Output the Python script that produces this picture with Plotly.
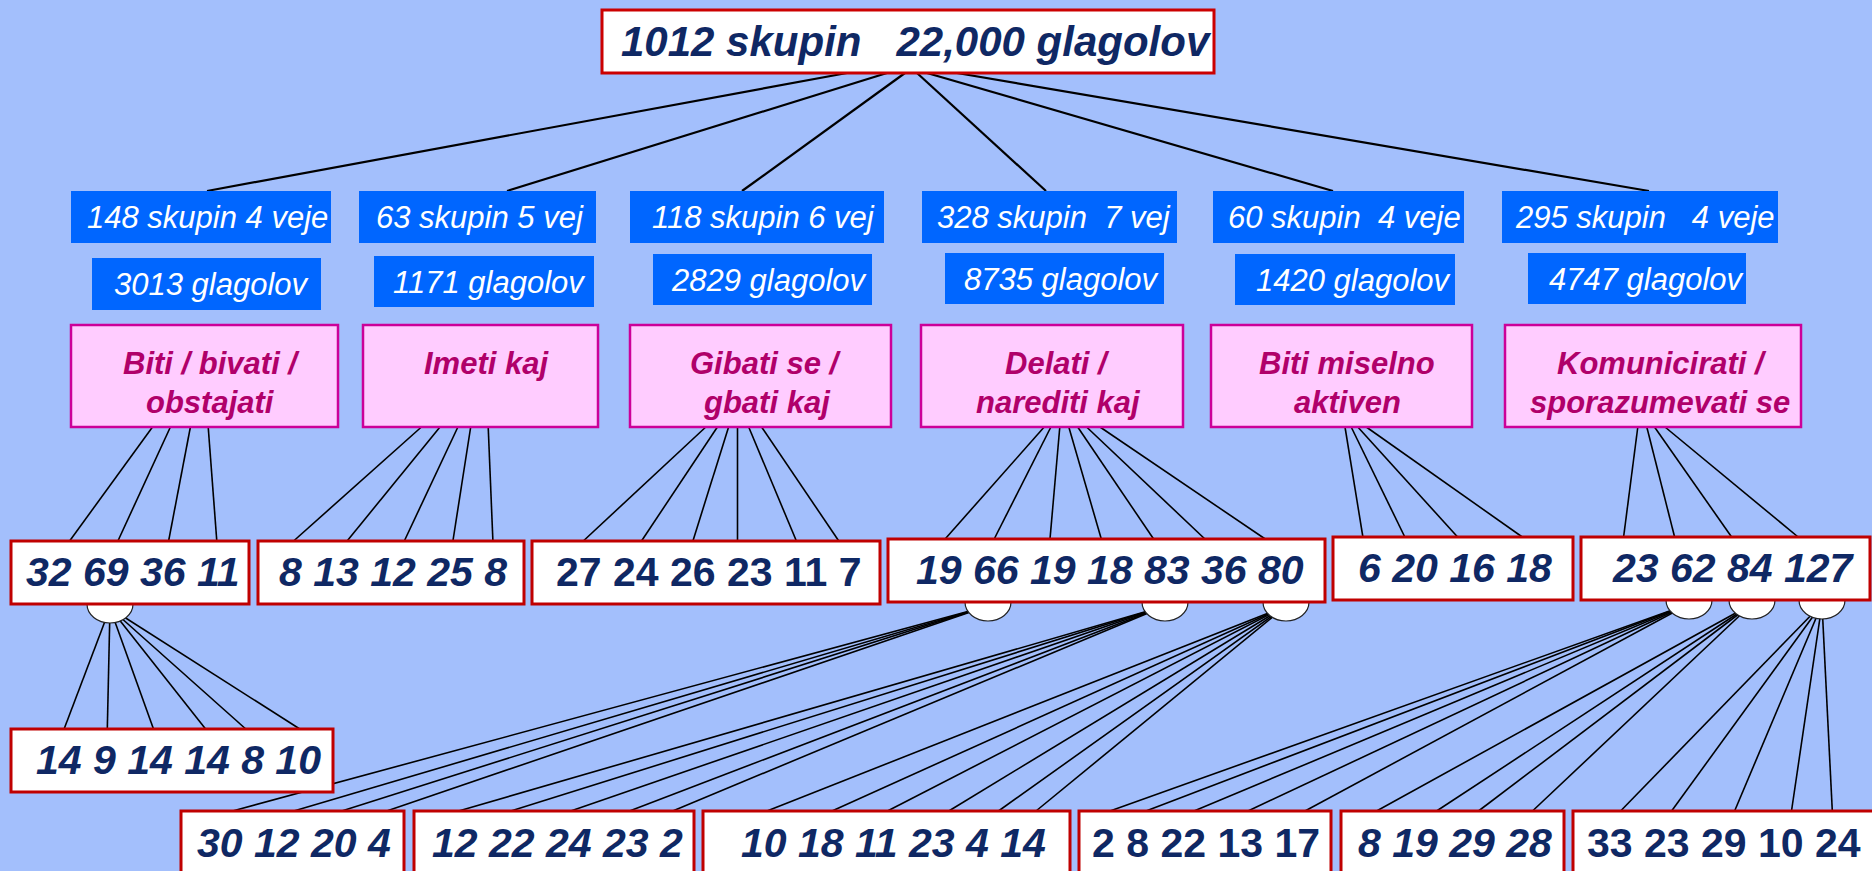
import plotly.graph_objects as go

# ---------------- data (labels) ----------------
root_label = "1012 skupin\u00a0\u00a0\u00a022,000 glagolov"
branch_groups = ["148 skupin 4 veje", "63 skupin 5 vej", "118 skupin 6 vej",
                 "328 skupin\u00a0\u00a07 vej", "60 skupin\u00a0\u00a04 veje", "295 skupin\u00a0\u00a0\u00a04 veje"]
branch_verbs = ["3013 glagolov", "1171 glagolov", "2829 glagolov",
                "8735 glagolov", "1420 glagolov", "4747 glagolov"]
branch_names_l1 = ["Biti / bivati /", "Imeti kaj", "Gibati se /", "Delati /", "Biti miselno", "Komunicirati /"]
branch_names_l2 = ["obstajati", "", "gbati kaj", "narediti kaj", "aktiven", "sporazumevati se"]
level3_labels = ["32 69 36 11", "8 13 12 25 8", "27 24 26 23 11 7",
                 "19 66 19 18 83 36 80", "6 20 16 18", "23 62 84 127"]
level3_italic = [True, True, False, True, True, True]
sub_left_label = "14 9 14 14 8 10"
bottom_labels = ["30 12 20 4", "12 22 24 23 2", "10 18 11 23 4 14",
                 "2 8 22 13 17", "8 19 29 28", "33 23 29 10 24"]
bottom_italic = [True, True, True, False, True, False]

# ---------------- layout geometry (pixels) ----------------
W, H = 1872, 871
BG = "#a3bffc"
BLUE = "#0066ff"
PINK_FILL = "#ffccff"
PINK_LINE = "#cc0099"
PINK_TEXT = "#b0006a"
RED = "#c00000"
NAVY = "#0f2864"
FONT = "Liberation Sans, Arial"

root_box = (602, 1214, 10, 73)
root_text = (916, 41)

blue1_x = [(71, 331), (359, 596), (630, 884), (922, 1177), (1213, 1464), (1502, 1778)]
blue1_y = (191, 243)
blue1_tx = [207, 480, 763, 1054, 1344, 1645]
blue1_ty = 217

blue2_boxes = [(92, 321, 258, 310), (374, 594, 256, 307), (653, 872, 254, 305),
               (945, 1164, 253, 304), (1235, 1455, 254, 305), (1528, 1746, 253, 304)]
blue2_tx = [211, 489, 769, 1061, 1353, 1646]
blue2_ty = [284, 282, 280, 279, 280, 279]

pink_x = [(71, 338), (363, 598), (630, 891), (921, 1183), (1211, 1472), (1505, 1801)]
pink_y = (325, 427)
pink_tx1 = [211, 486, 766, 1057, 1347, 1662]
pink_tx2 = [210, 486, 767, 1058, 1347, 1660]
pink_ty = (363, 402)

l3_boxes = [(11, 249, 541, 604), (258, 524, 541, 604), (532, 880, 541, 604),
            (888, 1325, 539, 602), (1333, 1573, 537, 600), (1581, 1870, 537, 600)]
l3_tx = [133, 393, 709, 1110, 1455, 1733]
l3_ty = [572, 572, 572, 570, 568, 568]

sub_left_box = (11, 333, 729, 792)
sub_left_txt = (178, 760)

bottom_x = [(181, 404), (414, 694), (703, 1070), (1079, 1331), (1341, 1564), (1573, 1890)]
bottom_y = (811, 905)
bottom_tx = [294, 557, 893, 1206, 1455, 1724]
bottom_ty = 843

# connectors root -> blue boxes
root_starts = [847, 887, 905, 917, 927, 957]
root_ends = [207, 507, 742, 1046, 1333, 1649]

# connectors pink boxes -> level3 boxes
pink_starts = [[152.5, 170.4, 190.4, 208.2],
               [421.4, 440, 457.9, 470.7, 488.2],
               [705.8, 717.4, 728.6, 737.5, 748.7, 761.6],
               [1044.2, 1050.9, 1059.8, 1068.8, 1077.7, 1086.6, 1100],
               [1345, 1351.2, 1357.8, 1366.3],
               [1637.8, 1646.8, 1654.5, 1665]]
pink_ends = [[69.6, 117.9, 168.6, 216.8],
             [293.6, 347.1, 404.3, 452.9, 492.9],
             [583.3, 641.5, 692.9, 737.5, 796.4, 838.8],
             [945.1, 994.2, 1050, 1101.3, 1153.6, 1204.9, 1265.2],
             [1362.9, 1404.8, 1457.6, 1522.3],
             [1623.6, 1674.6, 1731.6, 1798.1]]

# ellipses (expansion knobs) and their fan-out connectors
knobs = [  # (cx, cy, target_top_y, end_xs)
    (110, 604, 729, [64.1, 107.3, 153.5, 205.6, 245.8, 299.8]),
    (988, 602, 811, [232.6, 293.8, 341.7, 386.7]),
    (1165, 602, 811, [458.6, 510.8, 570.7, 629.5, 672.7]),
    (1286, 602, 811, [767, 832, 887.5, 948.8, 998.5, 1036]),
    (1689, 600, 811, [1110, 1146, 1194, 1248, 1305]),
    (1752, 600, 811, [1376.6, 1436.6, 1478.5, 1532.5]),
    (1822, 600, 811, [1620.6, 1671.6, 1734.6, 1791.5, 1832.3]),
]
KRX, KRY = 23, 19

shapes = []
annotations = []


def line(x0, y0, x1, y1, w=1.5):
    shapes.append(dict(type="line", xref="x", yref="y", x0=x0, y0=y0, x1=x1, y1=y1,
                       line=dict(color="black", width=w), layer="above"))


def rect(x0, x1, y0, y1, fill, lc=None, lw=0):
    shapes.append(dict(type="rect", xref="x", yref="y", x0=x0, x1=x1, y0=y0, y1=y1,
                       fillcolor=fill, line=dict(color=lc or fill, width=lw), layer="above"))


def text(x, y, s, size, color, bold=True, italic=True):
    if not s:
        return
    t = s
    if italic:
        t = "<i>" + t + "</i>"
    if bold:
        t = "<b>" + t + "</b>"
    annotations.append(dict(x=x, y=y, xref="x", yref="y", text=t, showarrow=False,
                            xanchor="center", yanchor="middle",
                            font=dict(family=FONT, size=size, color=color)))


# connectors first (boxes drawn over them)
for s, e in zip(root_starts, root_ends):
    line(s, root_box[3], e, blue1_y[0], w=2.2)
for i, (ss, ee) in enumerate(zip(pink_starts, pink_ends)):
    for s, e in zip(ss, ee):
        line(s, pink_y[1], e, l3_boxes[i][2], w=1.6)
for cx, cy, ty, ends in knobs:
    for e in ends:
        line(cx, cy + 4, e, ty, w=1.6)
for cx, cy, ty, ends in knobs:
    shapes.append(dict(type="circle", xref="x", yref="y", x0=cx - KRX, x1=cx + KRX,
                       y0=cy - KRY, y1=cy + KRY, fillcolor="white",
                       line=dict(color="#222222", width=1.2), layer="above"))

# boxes
rect(*root_box, "white", "#cc0000", 3)
text(*root_text, root_label, 42, NAVY)

for i, (x0, x1) in enumerate(blue1_x):
    rect(x0, x1, blue1_y[0], blue1_y[1], BLUE)
    text(blue1_tx[i], blue1_ty, branch_groups[i], 31, "white", bold=False)
for i, (x0, x1, y0, y1) in enumerate(blue2_boxes):
    rect(x0, x1, y0, y1, BLUE)
    text(blue2_tx[i], blue2_ty[i], branch_verbs[i], 31, "white", bold=False)

for i, (x0, x1) in enumerate(pink_x):
    rect(x0, x1, pink_y[0], pink_y[1], PINK_FILL, PINK_LINE, 2.5)
    text(pink_tx1[i], pink_ty[0], branch_names_l1[i], 31, PINK_TEXT)
    text(pink_tx2[i], pink_ty[1], branch_names_l2[i], 31, PINK_TEXT)

for i, (x0, x1, y0, y1) in enumerate(l3_boxes):
    rect(x0, x1, y0, y1, "white", RED, 3)
    text(l3_tx[i], l3_ty[i], level3_labels[i], 41, NAVY, italic=level3_italic[i])

rect(*sub_left_box, "white", RED, 3)
text(*sub_left_txt, sub_left_label, 41, NAVY)

for i, (x0, x1) in enumerate(bottom_x):
    rect(x0, x1, bottom_y[0], bottom_y[1], "white", RED, 3)
    text(bottom_tx[i], bottom_ty, bottom_labels[i], 41, NAVY, italic=bottom_italic[i])

fig = go.Figure()
fig.add_trace(go.Scatter(x=[0, W], y=[0, H], mode="markers",
                         marker=dict(opacity=0), hoverinfo="skip", showlegend=False))
fig.update_layout(
    width=W, height=H, margin=dict(l=0, r=0, t=0, b=0),
    paper_bgcolor=BG, plot_bgcolor=BG,
    xaxis=dict(range=[0, W], visible=False, fixedrange=True),
    yaxis=dict(range=[H, 0], visible=False, fixedrange=True),
    shapes=shapes, annotations=annotations, showlegend=False,
)
fig.write_html("out.html", config={"displayModeBar": False},
               post_script="document.body.style.margin='0';document.body.style.overflow='hidden';")
